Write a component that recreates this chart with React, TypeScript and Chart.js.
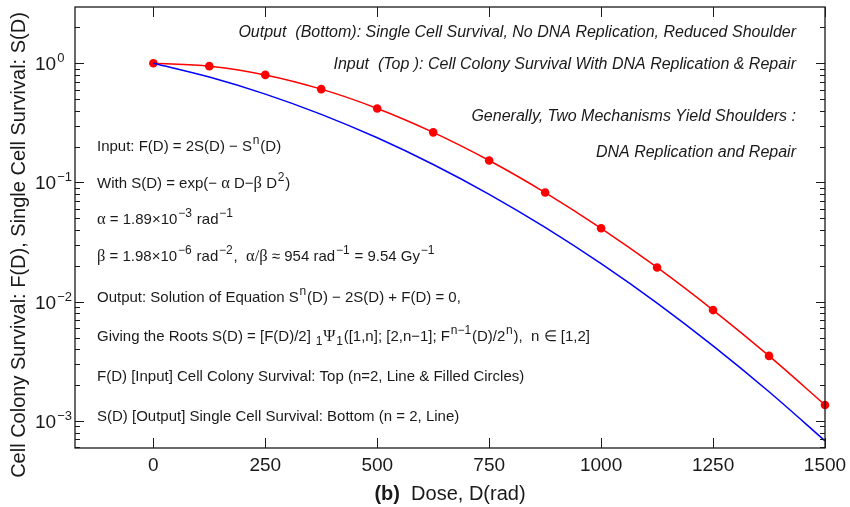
import React, { useEffect, useRef } from "react";
import { Chart, registerables } from "chart.js";

Chart.register(...registerables);

const doses = [0, 125, 250, 375, 500, 625, 750, 875, 1000, 1125, 1250, 1375, 1500];
const colonySurvival = [1, 0.945, 0.798, 0.606, 0.4177, 0.2632, 0.1529, 0.0823, 0.0413, 0.01939, 0.008514, 0.003515, 0.001364];
const singleCellSurvival = [1, 0.7655, 0.5509, 0.3726, 0.2369, 0.1416, 0.0796, 0.04203, 0.02086, 0.00974, 0.004266, 0.001759, 0.000682];
const xTickValues = [0, 250, 500, 750, 1000, 1250, 1500];
const yDecadeExponents = [0, -1, -2, -3];
const xTitleBold = "(b)";
const xTitle = "Dose, D(rad)";
const yTitle = "Cell Colony Survival: F(D), Single Cell Survival: S(D)";

type Seg = { t: string; sup?: boolean; sub?: boolean; greek?: boolean };

const leftNotes: Seg[][] = [
  [{ t: "Input: F(D) = 2S(D) − S" }, { t: "n", sup: true }, { t: "(D)" }],
  [{ t: "With S(D) = exp(− " }, { t: "α", greek: true }, { t: " D−" }, { t: "β", greek: true }, { t: " D" }, { t: "2", sup: true }, { t: ")" }],
  [{ t: "α", greek: true }, { t: " = 1.89×10" }, { t: "−3", sup: true }, { t: " rad" }, { t: "−1", sup: true }],
  [{ t: "β", greek: true }, { t: " = 1.98×10" }, { t: "−6", sup: true }, { t: " rad" }, { t: "−2", sup: true }, { t: ",  " }, { t: "α/β", greek: true }, { t: " ≈ 954 rad" }, { t: "−1", sup: true }, { t: " = 9.54 Gy" }, { t: "−1", sup: true }],
  [{ t: "Output: Solution of Equation S" }, { t: "n", sup: true }, { t: "(D) − 2S(D) + F(D) = 0," }],
  [{ t: "Giving the Roots S(D) = [F(D)/2] " }, { t: "1", sub: true }, { t: "Ψ", greek: true }, { t: "1", sub: true }, { t: "([1,n]; [2,n−1]; F" }, { t: "n−1", sup: true }, { t: "(D)/2" }, { t: "n", sup: true }, { t: "),  n ∈ [1,2]" }],
  [{ t: "F(D) [Input] Cell Colony Survival: Top (n=2, Line & Filled Circles)" }],
  [{ t: "S(D) [Output] Single Cell Survival: Bottom (n = 2, Line)" }],
];
const leftNoteBaselines = [151, 188, 224, 261, 302, 341, 381, 421];

const rightNotes = [
  "Output  (Bottom): Single Cell Survival, No DNA Replication, Reduced Shoulder",
  "Input  (Top ): Cell Colony Survival With DNA Replication & Repair",
  "Generally, Two Mechanisms Yield Shoulders :",
  "DNA Replication and Repair",
];
const rightNoteBaselines = [37, 69, 121, 157];

const FONT = "'Liberation Sans', Arial, sans-serif";
const INK = "#1a1a1a";

function drawSegs(ctx: CanvasRenderingContext2D, segs: Seg[], x: number, y: number, size: number) {
  let cx = x;
  for (const s of segs) {
    const small = s.sup || s.sub;
    const fs = small ? size * 0.8 : s.greek ? size * 1.1 : size;
    ctx.font = `${fs}px ${s.greek ? "'Liberation Serif', serif" : FONT}`;
    const dy = s.sup ? -size * 0.45 : s.sub ? size * 0.28 : 0;
    if (small) cx += 0.8;
    ctx.fillText(s.t, cx, y + dy);
    cx += ctx.measureText(s.t).width + (small ? 0.8 : 0);
  }
}

const decorPlugin = {
  id: "decor",
  afterDatasetsDraw(chart: any) {
    const ctx: CanvasRenderingContext2D = chart.ctx;
    const { left, right, top, bottom } = chart.chartArea;
    const xs = chart.scales.x;
    const ys = chart.scales.y;
    ctx.save();
    ctx.strokeStyle = INK;
    ctx.lineWidth = 1.3;
    ctx.strokeRect(left, top, right - left, bottom - top);
    ctx.lineWidth = 1;
    for (const v of xTickValues) {
      const px = Math.round(xs.getPixelForValue(v)) + 0.5;
      ctx.beginPath();
      ctx.moveTo(px, bottom);
      ctx.lineTo(px, bottom - 10);
      ctx.moveTo(px, top);
      ctx.lineTo(px, top + 10);
      ctx.stroke();
    }
    for (let e = -4; e <= 0; e++) {
      for (let m = 1; m <= 9; m++) {
        const v = m * Math.pow(10, e);
        if (v < ys.min || v > ys.max) continue;
        const py = Math.round(ys.getPixelForValue(v)) + 0.5;
        const len = m === 1 ? 9 : 5;
        ctx.beginPath();
        ctx.moveTo(left, py);
        ctx.lineTo(left + len, py);
        ctx.moveTo(right, py);
        ctx.lineTo(right - len, py);
        ctx.stroke();
      }
    }
    const v2 = 2;
    if (v2 <= ys.max) {
      const py = Math.round(ys.getPixelForValue(v2)) + 0.5;
      ctx.beginPath();
      ctx.moveTo(left, py);
      ctx.lineTo(left + 5, py);
      ctx.moveTo(right, py);
      ctx.lineTo(right - 5, py);
      ctx.stroke();
    }
    ctx.fillStyle = INK;
    ctx.font = `19px ${FONT}`;
    ctx.textAlign = "center";
    ctx.textBaseline = "alphabetic";
    for (const v of xTickValues) {
      ctx.fillText(String(v), xs.getPixelForValue(v), 471);
    }
    ctx.textAlign = "left";
    for (const e of yDecadeExponents) {
      const py = ys.getPixelForValue(Math.pow(10, e));
      ctx.font = `19px ${FONT}`;
      ctx.fillText("10", 35, py + 7);
      const w = ctx.measureText("10").width;
      ctx.font = `13px ${FONT}`;
      ctx.fillText(e === 0 ? "0" : "−" + String(-e), 35 + w + 1, py - 1);
    }
    const cxm = (left + right) / 2;
    const tsz = 20;
    ctx.font = `bold ${tsz}px ${FONT}`;
    const wb = ctx.measureText(xTitleBold + "  ").width;
    ctx.font = `${tsz}px ${FONT}`;
    const wt = ctx.measureText(xTitle).width;
    const sx = cxm - (wb + wt) / 2;
    ctx.font = `bold ${tsz}px ${FONT}`;
    ctx.fillText(xTitleBold, sx, 500);
    ctx.font = `${tsz}px ${FONT}`;
    ctx.fillText(xTitle, sx + wb, 500);
    ctx.save();
    ctx.translate(25, 245);
    ctx.rotate(-Math.PI / 2);
    ctx.textAlign = "center";
    ctx.font = `20px ${FONT}`;
    ctx.fillText(yTitle, 0, 0);
    ctx.restore();
    ctx.textAlign = "left";
    leftNotes.forEach((segs, i) => drawSegs(ctx, segs, 97, leftNoteBaselines[i], 15));
    ctx.textAlign = "right";
    ctx.font = `italic 16px ${FONT}`;
    rightNotes.forEach((t, i) => ctx.fillText(t, 796, rightNoteBaselines[i]));
    ctx.restore();
  },
};

export default function App() {
  const ref = useRef<HTMLCanvasElement>(null);
  useEffect(() => {
    if (!ref.current) return;
    const chart = new Chart(ref.current, {
      type: "line",
      data: {
        datasets: [
          {
            label: "S(D)",
            data: doses.map((d, i) => ({ x: d, y: singleCellSurvival[i] })),
            borderColor: "#0000ff",
            borderWidth: 1.5,
            pointRadius: 0,
            cubicInterpolationMode: "monotone",
            fill: false,
          },
          {
            label: "F(D)",
            data: doses.map((d, i) => ({ x: d, y: colonySurvival[i] })),
            borderColor: "#ff0000",
            backgroundColor: "#ff0000",
            borderWidth: 1.5,
            pointRadius: 4.3,
            pointBorderWidth: 0,
            cubicInterpolationMode: "monotone",
            fill: false,
            clip: false as any,
          },
        ],
      },
      options: {
        responsive: false,
        animation: false,
        layout: { padding: { left: 75, right: 25, top: 7, bottom: 59 } },
        plugins: { legend: { display: false }, tooltip: { enabled: false } },
        scales: {
          x: { type: "linear", min: -175, max: 1500, display: false },
          y: { type: "logarithmic", min: 0.000594, max: 2.96, display: false },
        },
      },
      plugins: [decorPlugin],
    });
    return () => chart.destroy();
  }, []);
  return (
    <div style={{ position: "fixed", left: 0, top: 0, width: 850, height: 507, background: "#fff" }}>
      <canvas ref={ref} width={850} height={507} />
    </div>
  );
}
